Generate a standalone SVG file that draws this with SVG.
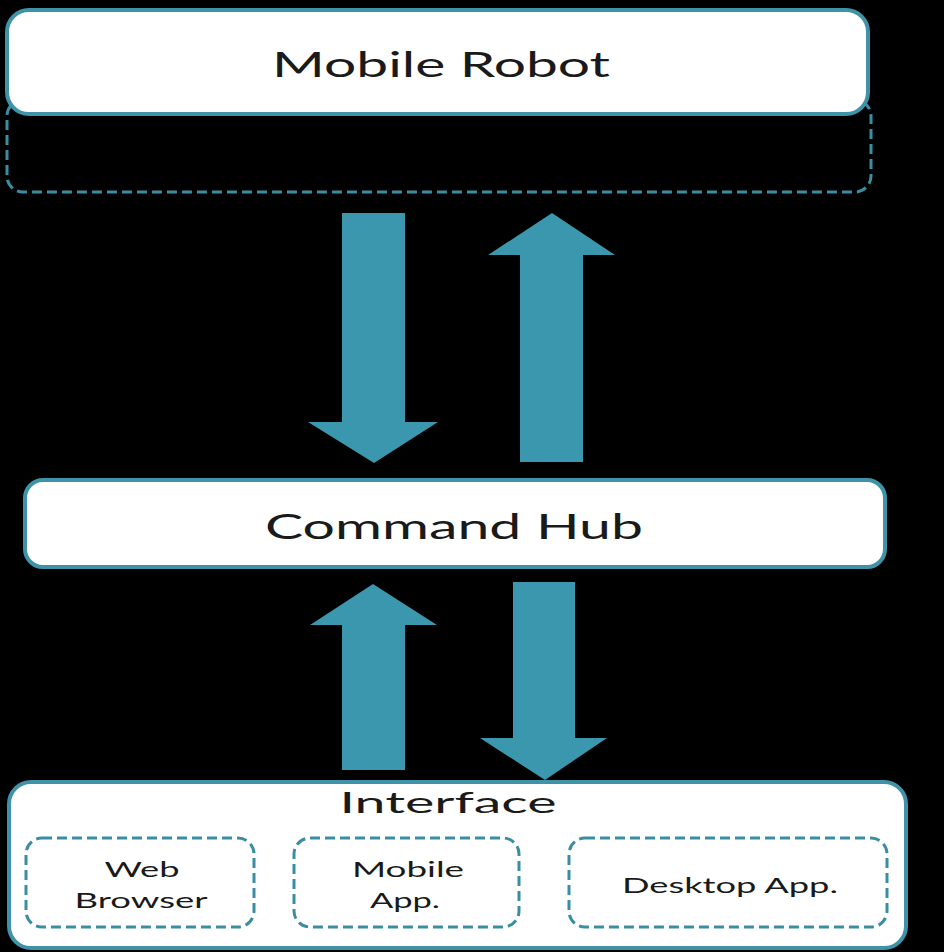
<svg xmlns="http://www.w3.org/2000/svg" width="944" height="952" viewBox="0 0 944 952">
<style>
.box{fill:#ffffff;stroke:#3f93a8;stroke-width:4}
.dash{fill:none;stroke:#3a8da2;stroke-width:3;stroke-dasharray:10 5}
.arrow{fill:#3a97ae}
text{font-family:Lato,"Open Sans","Liberation Sans",sans-serif;fill:#1a1a1a;text-anchor:middle}
.big{font-size:35px}
.mid{font-size:29px}
.sm{font-size:22px}
</style>
<rect x="0" y="0" width="944" height="952" fill="#000000"/>
<g id="mobile-robot">
<rect class="dash" x="7" y="100" width="864" height="92" rx="16"/>
<rect class="box" x="7" y="10" width="861" height="104" rx="22"/>
<text class="big" x="441" y="77" textLength="338" lengthAdjust="spacingAndGlyphs">Mobile Robot</text>
</g>
<g id="command-hub">
<rect class="box" x="25" y="480" width="860" height="87" rx="18"/>
<text class="big" x="454" y="539" textLength="378" lengthAdjust="spacingAndGlyphs">Command Hub</text>
</g>
<g id="interface">
<rect class="box" x="9" y="782" width="897" height="166" rx="22"/>
<text class="mid" x="448" y="813" textLength="217" lengthAdjust="spacingAndGlyphs">Interface</text>
<g id="web-browser">
<rect class="dash" x="26" y="838" width="228" height="89" rx="16"/>
<text class="sm" x="142" y="877" textLength="75" lengthAdjust="spacingAndGlyphs">Web</text>
<text class="sm" x="141" y="908" textLength="133" lengthAdjust="spacingAndGlyphs">Browser</text>
</g>
<g id="mobile-app">
<rect class="dash" x="294" y="838" width="225" height="89" rx="16"/>
<text class="sm" x="408" y="877" textLength="112" lengthAdjust="spacingAndGlyphs">Mobile</text>
<text class="sm" x="405" y="908" textLength="70" lengthAdjust="spacingAndGlyphs">App.</text>
</g>
<g id="desktop-app">
<rect class="dash" x="569" y="838" width="318" height="89" rx="16"/>
<text class="sm" x="730" y="893" textLength="216" lengthAdjust="spacingAndGlyphs">Desktop App.</text>
</g>
</g>
<g id="connectors">
<polygon class="arrow" points="342,213 405,213 405,422 438,422 374,463 308,422 342,422"/>
<polygon class="arrow" points="520,462 583,462 583,255 615,255 552,213 488,255 520,255"/>
<polygon class="arrow" points="342,770 405,770 405,625 437,625 373,584 310,625 342,625"/>
<polygon class="arrow" points="513,582 575,582 575,738 607,738 545,780 480,738 513,738"/>
</g>
</svg>
